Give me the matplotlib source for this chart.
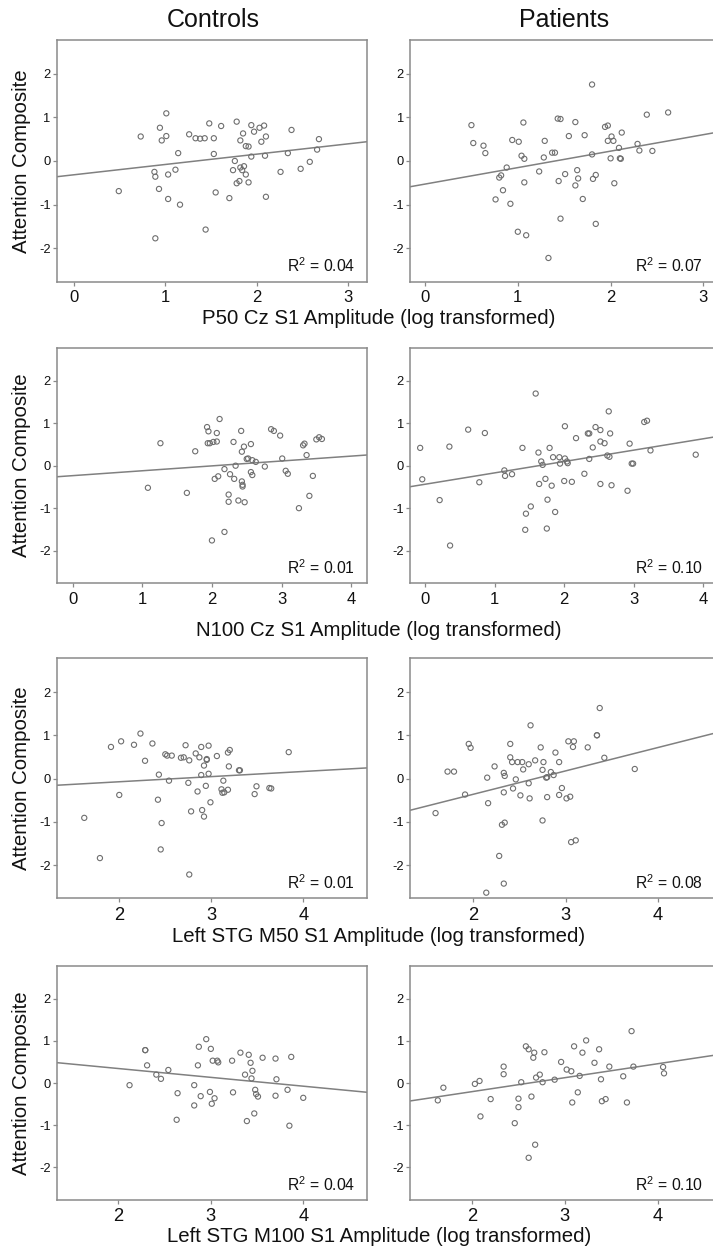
import matplotlib
matplotlib.use("Agg")
import matplotlib.pyplot as plt

plt.rcParams['font.family'] = ['Liberation Sans', 'DejaVu Sans']
plt.rcParams['axes.unicode_minus'] = False
plt.rcParams['mathtext.default'] = 'regular'

# ---------------- data ----------------
group_titles = ["Controls", "Patients"]
row_xlabels = ["P50 Cz S1 Amplitude (log transformed)",
               "N100 Cz S1 Amplitude (log transformed)",
               "Left STG M50 S1 Amplitude (log transformed)",
               "Left STG M100 S1 Amplitude (log transformed)"]
y_label = "Attention Composite"
row_xticks = [[0, 1, 2, 3], [0, 1, 2, 3, 4], [2, 3, 4], [2, 3, 4]]
y_ticks = [-2, -1, 0, 1, 2]

# Row 1 : P50 Cz
ctrl_p50_x = [0.49, 0.73, 1.01, 0.94, 0.96, 1.01, 1.14, 0.88, 0.89, 1.03, 1.11, 0.93, 1.03, 1.16,
              0.89, 1.26, 1.33, 1.38, 1.43, 1.48, 1.53, 1.53, 1.61, 1.55, 1.44, 1.70, 1.78, 1.82,
              1.85, 1.76, 1.74, 1.82, 1.86, 1.84, 1.88, 1.78, 1.81, 1.88, 1.91, 1.94, 1.97, 1.94,
              1.91, 2.03, 2.08, 2.05, 2.10, 2.09, 2.10, 2.26, 2.34, 2.38, 2.48, 2.58, 2.66, 2.68]
ctrl_p50_y = [-0.69, 0.56, 1.09, 0.76, 0.47, 0.57, 0.18, -0.25, -0.36, -0.31, -0.20, -0.64, -0.87, -1.00,
              -1.77, 0.61, 0.52, 0.51, 0.52, 0.86, 0.52, 0.16, 0.80, -0.72, -1.57, -0.85, 0.90, 0.47,
              0.63, 0.00, -0.21, -0.15, -0.12, -0.21, -0.31, -0.51, -0.46, 0.34, 0.33, 0.82, 0.67, 0.10,
              -0.49, 0.76, 0.81, 0.44, 0.56, 0.12, -0.82, -0.25, 0.18, 0.71, -0.18, -0.02, 0.26, 0.50]
pat_p50_x = [0.50, 0.52, 0.63, 0.65, 0.76, 0.80, 0.82, 0.84, 0.88, 0.92, 0.94, 1.01, 1.06, 1.04,
             1.07, 1.07, 1.00, 1.09, 1.23, 1.28, 1.29, 1.33, 1.37, 1.40, 1.43, 1.46, 1.44, 1.46,
             1.51, 1.55, 1.62, 1.62, 1.64, 1.65, 1.70, 1.72, 1.80, 1.80, 1.81, 1.84, 1.84, 1.94,
             1.97, 1.97, 2.01, 2.03, 2.00, 2.04, 2.09, 2.10, 2.11, 2.12, 2.29, 2.31, 2.39, 2.45, 2.62]
pat_p50_y = [0.82, 0.41, 0.35, 0.18, -0.88, -0.38, -0.33, -0.67, -0.15, -0.98, 0.48, 0.44, 0.88, 0.12,
             0.05, -0.49, -1.62, -1.70, -0.24, 0.08, 0.46, -2.22, 0.19, 0.19, 0.97, 0.96, -0.46, -1.32,
             -0.30, 0.57, 0.89, -0.56, -0.21, -0.40, -0.87, 0.59, 1.75, 0.15, -0.41, -0.32, -1.44, 0.78,
             0.81, 0.46, 0.56, 0.46, 0.06, -0.51, 0.30, 0.06, 0.05, 0.65, 0.39, 0.24, 1.06, 0.23, 1.11]

# Row 2 : N100 Cz
ctrl_n100_x = [1.08, 1.26, 1.64, 1.76, 1.93, 1.95, 1.94, 1.97, 2.02, 2.07, 2.07, 2.11, 2.04, 2.09,
               2.00, 2.18, 2.18, 2.26, 2.32, 2.24, 2.24, 2.31, 2.34, 2.38, 2.42, 2.43, 2.46, 2.43,
               2.44, 2.44, 2.47, 2.50, 2.52, 2.56, 2.58, 2.63, 2.56, 2.58, 2.76, 2.85, 2.89, 2.98,
               3.01, 3.06, 3.09, 3.25, 3.31, 3.33, 3.36, 3.40, 3.45, 3.50, 3.54, 3.58]
ctrl_n100_y = [-0.52, 0.53, -0.64, 0.34, 0.91, 0.81, 0.53, 0.53, 0.56, 0.57, 0.77, 1.10, -0.31, -0.25,
               -1.76, -1.56, -0.08, -0.20, -0.31, -0.68, -0.85, 0.56, 0.00, -0.82, 0.82, 0.33, 0.45, -0.37,
               -0.45, -0.49, -0.86, 0.16, 0.17, 0.51, 0.13, 0.09, -0.15, -0.22, -0.02, 0.86, 0.82, 0.71,
               0.17, -0.12, -0.19, -1.00, 0.48, 0.52, 0.25, -0.71, -0.24, 0.62, 0.67, 0.63]
pat_n100_x = [-0.07, -0.04, 0.21, 0.35, 0.36, 0.62, 0.86, 0.78, 1.14, 1.15, 1.25, 1.40, 1.59, 1.63,
              1.67, 1.69, 1.64, 1.73, 1.79, 1.82, 1.84, 1.76, 1.52, 1.45, 1.44, 1.75, 1.87, 1.93,
              1.94, 2.01, 2.01, 2.04, 2.05, 2.00, 2.11, 2.17, 2.29, 2.34, 2.36, 2.36, 2.41, 2.45,
              2.52, 2.52, 2.52, 2.58, 2.62, 2.64, 2.66, 2.65, 2.68, 2.91, 2.94, 2.97, 2.99, 3.15,
              3.19, 3.24, 3.89]
pat_n100_y = [0.42, -0.32, -0.81, 0.45, -1.88, 0.85, 0.77, -0.39, -0.11, -0.24, -0.20, 0.42, 1.70, 0.31,
              0.10, 0.02, -0.43, -0.31, 0.42, -0.47, 0.20, -0.80, -0.96, -1.13, -1.51, -1.48, -1.09, 0.20,
              0.05, 0.93, 0.17, 0.10, 0.06, -0.36, -0.38, 0.65, -0.19, 0.76, 0.76, 0.16, 0.43, 0.91,
              -0.43, 0.84, 0.57, 0.53, 0.24, 1.28, 0.76, 0.21, -0.46, -0.59, 0.52, 0.05, 0.05, 1.03,
              1.06, 0.36, 0.26]

# Row 3 : Left STG M50
ctrl_m50_x = [1.62, 1.79, 1.91, 2.00, 2.02, 2.16, 2.23, 2.28, 2.36, 2.42, 2.43, 2.46, 2.45, 2.50,
              2.52, 2.54, 2.57, 2.67, 2.70, 2.72, 2.75, 2.76, 2.78, 2.76, 2.83, 2.85, 2.87, 2.89,
              2.89, 2.90, 2.92, 2.92, 2.94, 2.95, 2.95, 2.97, 2.97, 2.99, 3.06, 3.13, 3.11, 3.12,
              3.14, 3.18, 3.18, 3.20, 3.19, 3.30, 3.31, 3.47, 3.49, 3.63, 3.65, 3.84]
ctrl_m50_y = [-0.91, -1.84, 0.73, -0.38, 0.86, 0.78, 1.04, 0.41, 0.81, -0.49, 0.09, -1.03, -1.64, 0.56,
              0.53, -0.05, 0.53, 0.48, 0.49, 0.77, -0.10, 0.42, -0.76, -2.22, 0.58, -0.30, 0.49, 0.73,
              0.08, -0.73, 0.30, -0.88, -0.17, 0.43, 0.45, 0.76, 0.11, -0.55, 0.52, -0.05, -0.25, -0.33,
              -0.32, -0.26, 0.60, 0.66, 0.28, 0.19, 0.19, -0.36, -0.18, -0.22, -0.23, 0.61]
pat_m50_x = [1.59, 1.72, 1.79, 1.91, 1.95, 1.97, 2.15, 2.16, 2.23, 2.28, 2.31, 2.33, 2.14, 2.33,
             2.34, 2.33, 2.34, 2.40, 2.40, 2.42, 2.43, 2.46, 2.48, 2.53, 2.54, 2.51, 2.60, 2.60,
             2.61, 2.62, 2.67, 2.73, 2.75, 2.76, 2.75, 2.79, 2.80, 2.80, 2.84, 2.87, 2.89, 2.93,
             2.93, 2.96, 3.01, 3.05, 3.03, 3.09, 3.08, 3.06, 3.11, 3.24, 3.34, 3.34, 3.37, 3.42, 3.75]
pat_m50_y = [-0.80, 0.16, 0.16, -0.37, 0.80, 0.71, 0.02, -0.57, 0.28, -1.79, -1.07, -2.43, -2.64, 0.13,
             0.06, -0.32, -1.02, 0.80, 0.49, 0.38, -0.23, -0.02, 0.38, 0.38, 0.21, -0.39, 0.33, -0.11,
             -0.46, 1.23, 0.42, 0.72, 0.20, 0.38, -0.97, 0.02, 0.03, -0.43, 0.15, 0.08, 0.60, -0.38,
             0.38, -0.22, -0.46, -0.42, 0.86, 0.86, 0.73, -1.47, -1.43, 0.72, 1.00, 1.00, 1.63, 0.48, 0.22]

# Row 4 : Left STG M100
ctrl_m100_x = [2.12, 2.29, 2.29, 2.31, 2.41, 2.46, 2.54, 2.64, 2.63, 2.82, 2.82, 2.86, 2.87, 2.89,
               2.95, 2.99, 3.00, 3.01, 3.02, 3.04, 3.07, 3.08, 3.23, 3.24, 3.32, 3.37, 3.41, 3.39,
               3.43, 3.45, 3.44, 3.47, 3.48, 3.49, 3.51, 3.56, 3.70, 3.71, 3.70, 3.83, 3.85, 3.87, 4.00]
ctrl_m100_y = [-0.05, 0.78, 0.78, 0.42, 0.20, 0.10, 0.31, -0.24, -0.87, -0.05, -0.53, 0.42, 0.86, -0.31,
               1.04, -0.21, 0.81, -0.49, 0.53, -0.36, 0.53, 0.49, 0.53, -0.22, 0.72, 0.20, 0.67, -0.90,
               0.48, 0.29, 0.11, -0.72, -0.16, -0.26, -0.32, 0.60, 0.58, 0.09, -0.30, -0.16, -1.01, 0.62, -0.35]
pat_m100_x = [1.63, 1.69, 2.03, 2.08, 2.09, 2.20, 2.34, 2.34, 2.46, 2.50, 2.50, 2.53, 2.58, 2.61,
              2.64, 2.61, 2.68, 2.67, 2.66, 2.69, 2.73, 2.76, 2.78, 2.89, 2.96, 3.02, 3.07, 3.08,
              3.10, 3.14, 3.16, 3.19, 3.23, 3.32, 3.37, 3.39, 3.40, 3.44, 3.48, 3.63, 3.67, 3.72,
              3.74, 4.06, 4.07]
pat_m100_y = [-0.41, -0.11, -0.02, 0.05, -0.79, -0.38, 0.39, 0.21, -0.95, -0.37, -0.57, 0.02, 0.87, 0.80,
              -0.32, -1.77, -1.46, 0.72, 0.60, 0.13, 0.20, 0.02, 0.73, 0.08, 0.50, 0.32, 0.28, -0.46,
              0.87, -0.22, 0.17, 0.72, 1.01, 0.48, 0.80, 0.09, -0.43, -0.38, 0.39, 0.16, -0.46, 1.23,
              0.39, 0.38, 0.23]

# Fit lines (intercept, slope) and R² labels
ctrl_fit_intercept = [-0.316, -0.234, -0.313, 0.762]
ctrl_fit_slope = [0.236, 0.115, 0.119, -0.209]
pat_fit_intercept = [-0.529, -0.437, -1.444, -0.863]
pat_fit_slope = [0.377, 0.268, 0.540, 0.330]
ctrl_r2 = ["0.04", "0.01", "0.01", "0.04"]
pat_r2 = ["0.07", "0.10", "0.08", "0.10"]

# ---------------- layout ----------------
W, H = 713, 1250
fig = plt.figure(figsize=(W / 100, H / 100), dpi=100)

col_px = [(57, 310), (410, 305)]           # left, width in px
row_px = [(39.5, 282), (347.7, 583.3), (658.3, 898.3), (965.7, 1200)]
row_xlims = [[(-0.186, 3.206), (-0.162, 3.125)],
             [(-0.226, 4.228), (-0.216, 4.167)],
             [(1.324, 4.69), (1.313, 4.62)],
             [(1.335, 4.69), (1.33, 4.62)]]
xtick_fs = [12, 12, 13.2, 13.2]
label_y_px = [318, 630, 937, 1237]

data = [
    [(ctrl_p50_x, ctrl_p50_y), (pat_p50_x, pat_p50_y)],
    [(ctrl_n100_x, ctrl_n100_y), (pat_n100_x, pat_n100_y)],
    [(ctrl_m50_x, ctrl_m50_y), (pat_m50_x, pat_m50_y)],
    [(ctrl_m100_x, ctrl_m100_y), (pat_m100_x, pat_m100_y)],
]

spine_col = "#8a8a8a"
mark_col = "#6e6e6e"
line_col = "#808080"

for r in range(4):
    top, bot = row_px[r]
    for c in range(2):
        lx, w = col_px[c]
        ax = fig.add_axes([lx / W, 1 - bot / H, w / W, (bot - top) / H])
        xs, ys = data[r][c]
        ax.scatter(xs, ys, s=14, facecolors='none', edgecolors=mark_col,
                   linewidths=0.8, zorder=3)
        if c == 0:
            b, m = ctrl_fit_intercept[r], ctrl_fit_slope[r]
            r2 = ctrl_r2[r]
        else:
            b, m = pat_fit_intercept[r], pat_fit_slope[r]
            r2 = pat_r2[r]
        ax.axline((0, b), slope=m, color=line_col, lw=1.1, zorder=2)
        ax.set_xlim(*row_xlims[r][c])
        ax.set_ylim(-2.77, 2.78)
        ax.set_xticks(row_xticks[r])
        ax.set_yticks(y_ticks)
        ax.tick_params(axis='x', length=3, width=0.9, color=spine_col, pad=3,
                       labelsize=xtick_fs[r], labelcolor='#111111')
        ax.tick_params(axis='y', length=3, width=0.9, color=spine_col, pad=1.5,
                       labelsize=9.3, labelcolor='#111111')
        for s in ax.spines.values():
            s.set_color(spine_col)
            s.set_linewidth(1.1)
        ax.text(0.961, 0.04, r"R$^{2}$ = " + r2, transform=ax.transAxes,
                ha='right', va='baseline', fontsize=11.3, color='#111111')
        if c == 0:
            yc = 1 - (top + bot) / 2 / H
            fig.text(21.7 / W, yc, y_label, rotation=90, ha='center', va='center',
                     fontsize=14.7, color='#111111')
    fig.text(379 / W, 1 - label_y_px[r] / H, row_xlabels[r], ha='center', va='center',
             fontsize=14.7, color='#111111')

fig.text(213 / W, 1 - 20 / H, group_titles[0], ha='center', va='center',
         fontsize=18, color='#111111')
fig.text(564 / W, 1 - 20 / H, group_titles[1], ha='center', va='center',
         fontsize=18, color='#111111')

fig.savefig("out.png", dpi=100, facecolor='white')
